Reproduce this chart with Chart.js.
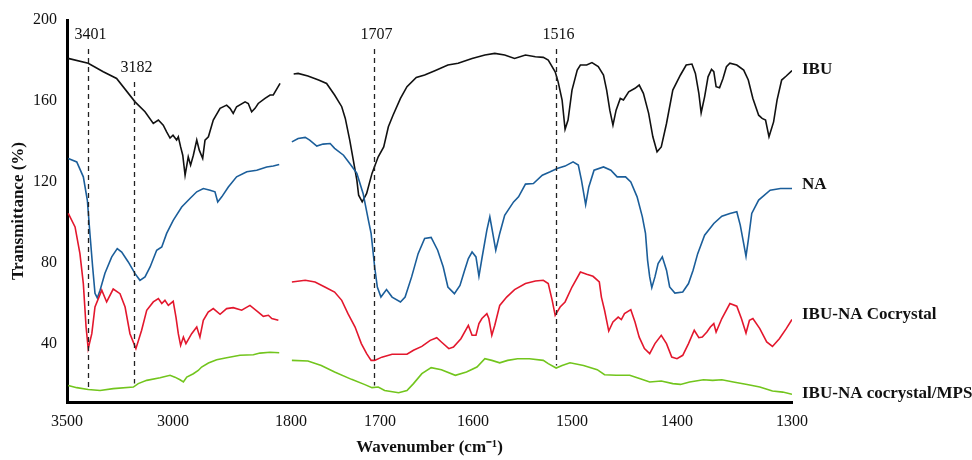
<!DOCTYPE html>
<html>
<head>
<meta charset="utf-8">
<script src="https://cdn.jsdelivr.net/npm/chart.js@4.4.1/dist/chart.umd.min.js"></script>
<style>
  html, body { margin: 0; padding: 0; background: #fff; }
  #wrap { width: 972px; height: 460px; }
</style>
</head>
<body>
<div id="wrap"><canvas id="ftir" width="972" height="460"></canvas></div>
<script>
// FTIR spectra, [wavenumber cm-1, transmittance %], split at the axis break
var ibuHigh = [[3495,181.0],[3400,178.6],[3329,174.4],[3266,171.1],[3179,159.5],[3132,154.6],[3093,148.8],[3069,150.5],[3046,148.0],[3030,144.7],[3014,141.6],[3000,143.0],[2983,140.6],[2975,142.2],[2964,137.2],[2954,133.1],[2943,123.2],[2928,132.3],[2917,128.2],[2904,133.1],[2888,140.6],[2876,135.6],[2860,131.5],[2849,140.6],[2833,142.2],[2810,150.5],[2778,156.3],[2747,157.9],[2731,156.3],[2716,153.8],[2700,157.1],[2660,159.5],[2645,158.7],[2629,154.6],[2613,156.3],[2598,158.7],[2566,161.2],[2542,162.9],[2527,162.9],[2495,168.6]];
var ibuLow = [[1797,173.3],[1792,173.6],[1781,172.3],[1769,170.3],[1760,168.6],[1751,162.9],[1743,157.1],[1739,151.3],[1734,140.6],[1730,130.7],[1726,120.8],[1724,113.3],[1720,110.0],[1715,114.2],[1709,124.1],[1702,132.3],[1696,137.2],[1691,147.2],[1686,152.9],[1678,161.2],[1671,167.0],[1661,171.6],[1652,172.8],[1641,174.9],[1627,177.7],[1616,178.6],[1601,181.0],[1588,182.7],[1578,183.5],[1568,182.7],[1558,181.0],[1547,182.7],[1537,181.8],[1529,181.5],[1524,180.2],[1517,174.4],[1514,169.4],[1510,160.4],[1507,145.9],[1504,150.5],[1500,165.3],[1495,175.2],[1492,177.7],[1486,177.7],[1481,178.9],[1475,176.9],[1470,172.8],[1467,165.3],[1464,155.4],[1461,148.0],[1458,155.4],[1454,161.2],[1451,160.4],[1446,164.5],[1440,166.2],[1436,167.8],[1432,163.7],[1427,153.8],[1423,142.2],[1419,134.8],[1415,137.2],[1410,148.8],[1404,165.3],[1397,172.8],[1392,177.7],[1387,178.2],[1384,173.6],[1381,163.7],[1379,154.1],[1376,162.0],[1373,171.9],[1370,175.6],[1368,174.4],[1366,167.0],[1363,166.5],[1360,171.1],[1357,176.9],[1354,178.6],[1348,177.7],[1342,175.2],[1338,170.3],[1334,161.2],[1329,152.9],[1326,151.3],[1323,150.5],[1320,142.2],[1316,149.6],[1313,160.4],[1309,170.3],[1305,172.3],[1300,175.0]];

var naHigh = [[3494,131.5],[3454,129.8],[3423,122.4],[3404,110.8],[3392,94.5],[3379,77.8],[3368,64.8],[3357,62.5],[3344,66.3],[3321,74.7],[3289,82.8],[3263,86.9],[3242,85.2],[3211,80.3],[3179,74.5],[3156,71.2],[3132,72.9],[3108,77.8],[3077,86.1],[3053,87.7],[3030,94.4],[2999,100.9],[2959,107.5],[2920,111.7],[2888,115.0],[2857,116.6],[2825,115.8],[2802,115.0],[2789,110.0],[2770,112.5],[2739,117.4],[2700,122.4],[2652,124.9],[2605,125.7],[2558,127.3],[2527,127.8],[2499,128.5]];
var naLow = [[1799,139.7],[1792,141.4],[1784,141.9],[1779,140.6],[1771,137.6],[1764,138.6],[1756,138.9],[1751,136.5],[1741,133.1],[1734,129.0],[1726,124.1],[1719,114.2],[1713,100.9],[1710,94.4],[1706,77.8],[1703,67.9],[1699,62.9],[1693,66.6],[1687,62.9],[1678,60.5],[1673,62.9],[1666,72.9],[1659,84.4],[1652,91.9],[1645,92.4],[1638,86.1],[1632,77.8],[1627,67.9],[1620,64.6],[1614,68.7],[1609,76.2],[1605,82.0],[1601,85.2],[1597,82.8],[1594,73.2],[1591,82.0],[1586,96.0],[1583,102.6],[1580,94.4],[1577,86.1],[1573,94.4],[1568,103.4],[1559,110.0],[1554,112.5],[1547,118.8],[1539,119.1],[1530,123.2],[1522,124.9],[1515,126.5],[1507,127.7],[1499,129.8],[1494,128.2],[1491,120.8],[1487,108.7],[1484,117.4],[1479,125.7],[1470,127.3],[1463,125.7],[1457,122.4],[1449,122.4],[1444,119.9],[1438,112.5],[1433,102.6],[1430,94.4],[1428,81.1],[1426,72.9],[1424,67.6],[1421,72.9],[1418,79.5],[1414,82.8],[1410,76.2],[1407,67.9],[1402,64.9],[1395,65.4],[1390,69.6],[1386,76.2],[1382,84.4],[1376,93.5],[1368,99.3],[1361,102.9],[1354,104.3],[1348,105.1],[1345,98.5],[1342,89.4],[1340,83.1],[1338,91.1],[1335,104.3],[1329,110.9],[1319,115.8],[1310,116.6],[1300,116.6]];

var coHigh = [[3494,104.3],[3462,97.6],[3439,84.4],[3423,69.6],[3410,48.1],[3400,37.4],[3383,44.8],[3368,58.0],[3336,66.3],[3313,60.5],[3282,66.9],[3250,64.6],[3226,58.0],[3203,44.8],[3175,37.4],[3148,46.5],[3124,56.4],[3093,60.5],[3069,62.2],[3053,59.7],[3038,61.3],[3022,58.8],[2999,60.8],[2986,53.0],[2975,44.8],[2964,39.0],[2951,43.1],[2939,39.9],[2912,44.8],[2888,48.1],[2873,43.1],[2857,51.4],[2834,55.5],[2810,57.2],[2778,54.4],[2747,57.2],[2716,57.7],[2676,56.4],[2637,58.8],[2598,55.5],[2574,53.4],[2550,53.9],[2534,52.3],[2503,51.4]];
var coLow = [[1799,70.4],[1784,71.2],[1773,70.4],[1762,67.9],[1751,65.4],[1743,61.3],[1736,54.7],[1728,48.1],[1721,39.9],[1715,34.9],[1710,31.6],[1706,31.6],[1698,33.2],[1687,34.6],[1671,34.6],[1664,36.6],[1655,38.5],[1646,41.5],[1639,42.8],[1634,40.7],[1626,37.4],[1621,38.2],[1613,42.3],[1605,48.9],[1601,44.0],[1597,44.0],[1594,49.8],[1591,52.3],[1586,54.7],[1584,52.3],[1581,44.0],[1578,49.0],[1573,58.8],[1566,62.9],[1558,66.6],[1547,69.6],[1537,70.9],[1529,71.2],[1524,69.6],[1520,61.3],[1517,53.9],[1512,58.0],[1507,60.5],[1500,67.9],[1492,75.3],[1486,74.2],[1480,73.2],[1474,70.4],[1472,62.9],[1469,56.4],[1465,46.1],[1461,50.6],[1456,53.0],[1453,51.8],[1450,54.7],[1444,56.7],[1440,50.6],[1436,43.1],[1431,37.4],[1426,34.9],[1421,39.9],[1415,44.0],[1410,39.9],[1405,33.2],[1400,32.4],[1395,34.1],[1390,39.9],[1385,46.5],[1381,42.8],[1378,43.1],[1374,45.6],[1371,48.1],[1368,49.8],[1366,45.6],[1361,52.3],[1354,59.7],[1348,58.4],[1344,52.3],[1340,45.1],[1337,51.4],[1334,52.3],[1328,47.3],[1322,40.7],[1317,38.5],[1311,42.3],[1305,47.3],[1300,51.8]];

var mpsHigh = [[3494,19.2],[3454,18.1],[3400,17.2],[3344,16.7],[3282,17.6],[3187,18.4],[3164,20.1],[3124,21.7],[3061,23.0],[3014,24.2],[2991,23.3],[2967,22.0],[2951,20.9],[2935,23.3],[2904,25.0],[2881,26.6],[2865,28.3],[2833,30.3],[2794,31.9],[2747,32.9],[2684,34.1],[2621,34.4],[2590,35.2],[2542,35.6],[2499,35.4]];
var mpsLow = [[1799,31.6],[1781,31.3],[1766,29.1],[1751,25.8],[1732,22.2],[1717,19.6],[1709,18.1],[1702,18.4],[1695,16.7],[1680,15.6],[1671,16.7],[1664,20.1],[1655,25.0],[1645,28.0],[1634,27.0],[1619,24.2],[1607,25.8],[1596,28.3],[1588,32.4],[1581,31.6],[1573,30.4],[1565,31.6],[1555,32.4],[1543,32.4],[1529,31.6],[1524,30.0],[1516,27.8],[1510,29.1],[1502,30.4],[1489,29.1],[1476,27.0],[1469,24.5],[1458,24.2],[1445,24.2],[1435,22.5],[1426,20.9],[1415,21.4],[1404,20.1],[1397,19.7],[1389,20.9],[1377,22.0],[1369,21.7],[1361,22.0],[1351,20.9],[1339,19.7],[1328,18.4],[1317,16.4],[1308,15.9],[1300,14.8]];

var seriesNames = ['IBU', 'NA', 'IBU-NA Cocrystal', 'IBU-NA cocrystal/MPS'];
var seriesColors = ['#111111', '#1b5e9a', '#e3172d', '#72c51d'];
var nameAt = [175.7, 118.8, 54.4, 15.3];

var xTickLabels = [3500, 3000, 1800, 1700, 1600, 1500, 1400, 1300];
var yTickLabels = [40, 80, 120, 160, 200];

// marked bands: wavenumber, dashed line from peakTop down to peakBottom (%T)
var peakWn = [3401, 3182, 1707, 1516];
var peakTop = [185.6, 169.3, 185.6, 185.6];
var peakBottom = [17.7, 20.2, 19.2, 29.1];

// broken axis: 3500-2400 compressed, 1800-1300 stretched
var lowAnchors = [[1800, 224], [1700, 313], [1600, 406], [1500, 505], [1400, 610], [1300, 725]];
function toAxis(wn) {
  if (wn > 1800) return (3500 - wn) * 0.212;
  for (var i = 0; i < lowAnchors.length - 1; i++) {
    var a = lowAnchors[i], b = lowAnchors[i + 1];
    if (wn <= a[0] && wn >= b[0]) return a[1] + (a[0] - wn) / (a[0] - b[0]) * (b[1] - a[1]);
  }
  return 725 + (1300 - wn) * 1.15;
}
function fromAxis(pos) {
  for (var i = 0; i < xTickLabels.length; i++) {
    if (Math.abs(toAxis(xTickLabels[i]) - pos) < 0.01) return xTickLabels[i];
  }
  return '';
}

function build(high, low) {
  var pts = high.map(function(p) { return {x: toAxis(p[0]), y: p[1]}; });
  pts.push({x: 218, y: null});
  return pts.concat(low.map(function(p) { return {x: toAxis(p[0]), y: p[1]}; }));
}

var serif = '"Liberation Serif", "Times New Roman", serif';
var allData = [build(ibuHigh, ibuLow), build(naHigh, naLow), build(coHigh, coLow), build(mpsHigh, mpsLow)];

var datasets = allData.map(function(d, i) {
  return {
    label: seriesNames[i],
    data: d,
    borderColor: seriesColors[i],
    borderWidth: 1.6,
    pointRadius: 0,
    tension: 0,
    spanGaps: false,
    fill: false
  };
});
datasets.reverse();

var extras = {
  id: 'extras',
  afterDatasetsDraw: function(chart) {
    var ctx = chart.ctx, xs = chart.scales.x, ys = chart.scales.y;
    ctx.save();
    // dashed band markers
    ctx.strokeStyle = '#222';
    ctx.lineWidth = 1.3;
    ctx.setLineDash([5, 4]);
    ctx.font = '16px ' + serif;
    ctx.fillStyle = '#111';
    ctx.textAlign = 'center';
    ctx.textBaseline = 'middle';
    peakWn.forEach(function(w, i) {
      var px = Math.round(xs.getPixelForValue(toAxis(w))) + 0.5;
      var top = ys.getPixelForValue(peakTop[i]);
      ctx.beginPath();
      ctx.moveTo(px, top);
      ctx.lineTo(px, ys.getPixelForValue(peakBottom[i]));
      ctx.stroke();
      ctx.fillText(String(w), px + 2, top - 14);
    });
    ctx.setLineDash([]);
    // series names at the right end
    ctx.font = 'bold 17px ' + serif;
    ctx.textAlign = 'left';
    seriesNames.forEach(function(n, i) {
      ctx.fillText(n, chart.chartArea.right + 10, ys.getPixelForValue(nameAt[i]));
    });
    ctx.restore();
  }
};

new Chart(document.getElementById('ftir').getContext('2d'), {
  type: 'line',
  data: { datasets: datasets },
  options: {
    responsive: false,
    animation: false,
    layout: { padding: { top: 20, right: 180, left: 0, bottom: 0 } },
    plugins: { legend: { display: false }, tooltip: { enabled: false } },
    scales: {
      x: {
        type: 'linear',
        min: 0,
        max: 725,
        grid: { display: false, drawTicks: false },
        border: { display: true, color: '#000', width: 3 },
        afterBuildTicks: function(scale) {
          scale.ticks = xTickLabels.map(function(w) { return {value: toAxis(w)}; });
        },
        afterFit: function(scale) { scale.height = 58; },
        ticks: {
          autoSkip: false,
          maxRotation: 0,
          padding: 10,
          color: '#111',
          font: { family: serif, size: 16 },
          callback: function(v) { return fromAxis(v); }
        },
        title: {
          display: true,
          text: 'Wavenumber (cm⁻¹)',
          color: '#111',
          font: { family: serif, size: 17, weight: 'bold' },
          padding: { top: 0, bottom: 2 }
        }
      },
      y: {
        min: 11,
        max: 200,
        grid: { display: false, drawTicks: false },
        border: { display: true, color: '#000', width: 3 },
        afterBuildTicks: function(scale) {
          scale.ticks = yTickLabels.map(function(v) { return {value: v}; });
        },
        afterFit: function(scale) { scale.width = 67; },
        ticks: {
          padding: 10,
          color: '#111',
          font: { family: serif, size: 16 }
        },
        title: {
          display: true,
          text: 'Transmittance (%)',
          color: '#111',
          font: { family: serif, size: 17, weight: 'bold' },
          padding: { top: 8, bottom: 0 }
        }
      }
    }
  },
  plugins: [extras]
});
</script>
</body>
</html>
